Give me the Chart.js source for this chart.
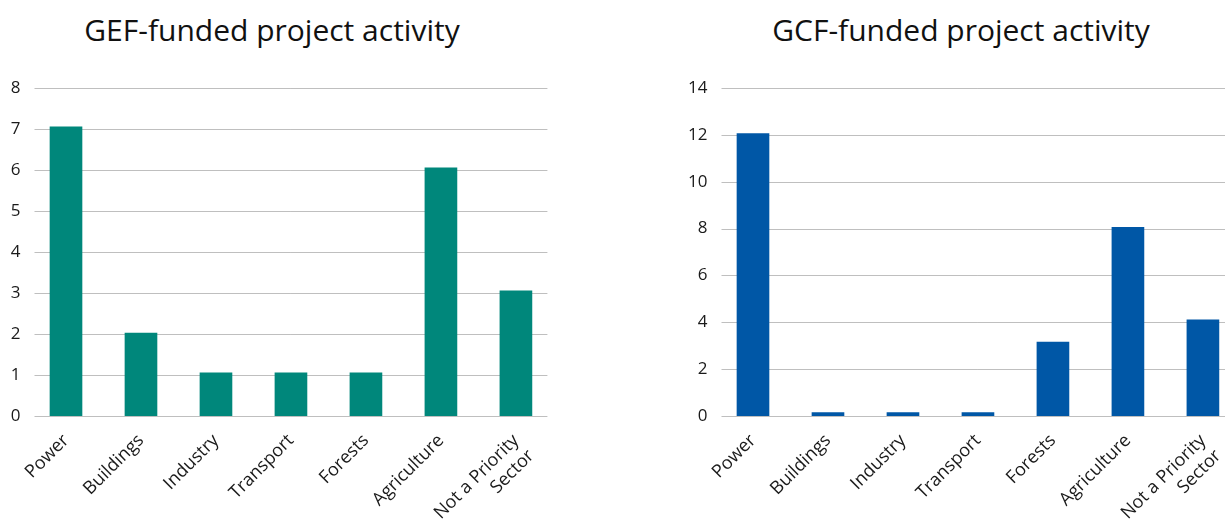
<!DOCTYPE html>
<html>
<head>
<meta charset="utf-8">
<script src="https://cdn.jsdelivr.net/npm/chart.js@4.4.1/dist/chart.umd.min.js"></script>
<style>
  html, body { margin:0; padding:0; background:#fff; overflow:hidden; width:1225px; height:519px; }
  .box { position:absolute; top:0; height:519px; }
  .ttl { position:absolute; top:9px; font-family:"Open Sans", sans-serif; font-size:30px; color:#111; white-space:nowrap; transform:translateX(-50%); }
</style>
</head>
<body>
<div class="ttl" id="gef_title" style="left:272px">GEF-funded project activity</div>
<div class="ttl" id="gcf_title" style="left:961px">GCF-funded project activity</div>
<div class="box" style="left:0px;width:561px"><canvas id="gef_Chart" width="561" height="519"></canvas></div>
<div class="box" style="left:680px;width:568px"><canvas id="gcf_Chart" width="568" height="519"></canvas></div>
<script>
/* DATA */
let sector_labels=["Power","Buildings","Industry","Transport","Forests","Agriculture",["Not a Priority","Sector"]];
let gef_values=[7.05,2.02,1.05,1.05,1.05,6.05,3.05];
let gcf_values=[12.05,0.15,0.15,0.15,3.15,8.05,4.1];
let gef_yTicks={min:0,max:8,step:1};
let gcf_yTicks={min:0,max:14,step:2};

/* STYLE */
const GRID_COLOR="#bfbfbf";
const TICK_FONT={family:"'Open Sans', sans-serif",size:17};
Chart.defaults.color="#1a1a1a";

// horizontal gridlines, a bit inset from the plot edges (excel look)
const insetGrid={
  id:'insetGrid',
  beforeDatasetsDraw(chart){
    const y=chart.scales.y, area=chart.chartArea, c=chart.ctx;
    c.save();
    c.strokeStyle=GRID_COLOR;
    c.lineWidth=1;
    y.ticks.forEach(function(t){
      const py=Math.round(y.getPixelForValue(t.value))+0.5;
      c.beginPath();
      c.moveTo(area.left+6,py);
      c.lineTo(area.right-6,py);
      c.stroke();
    });
    c.restore();
  }
};

// build one bar chart
function make_chart(dom_id,values,yTicks,color,yWidth,padRight){
  const ctx=document.getElementById(dom_id).getContext('2d');
  return new Chart(ctx,{
    type:'bar',
    data:{
      labels:sector_labels,
      datasets:[{
        data:values,
        backgroundColor:color,
        barThickness:32
      }]
    },
    plugins:[insetGrid],
    options:{
      responsive:false,
      animation:false,
      layout:{padding:{top:88,right:padRight,bottom:0,left:0}},
      plugins:{legend:{display:false},tooltip:{enabled:false}},
      scales:{
        x:{
          grid:{display:false,drawTicks:false},
          border:{display:false},
          ticks:{font:{family:TICK_FONT.family,size:18},minRotation:45,maxRotation:45,padding:14,autoSkip:false},
          afterFit:function(scale){ scale.height=103; }
        },
        y:{
          min:yTicks.min,
          max:yTicks.max,
          grid:{display:false,drawTicks:false},
          border:{display:false},
          ticks:{stepSize:yTicks.step,font:TICK_FONT,padding:8},
          afterFit:function(scale){ scale.width=yWidth; }
        }
      }
    }
  });
}

make_chart('gef_Chart',gef_values,gef_yTicks,'#00877b',28.5,7.5);
make_chart('gcf_Chart',gcf_values,gcf_yTicks,'#0057a6',35.5,7.5);
</script>
</body>
</html>
